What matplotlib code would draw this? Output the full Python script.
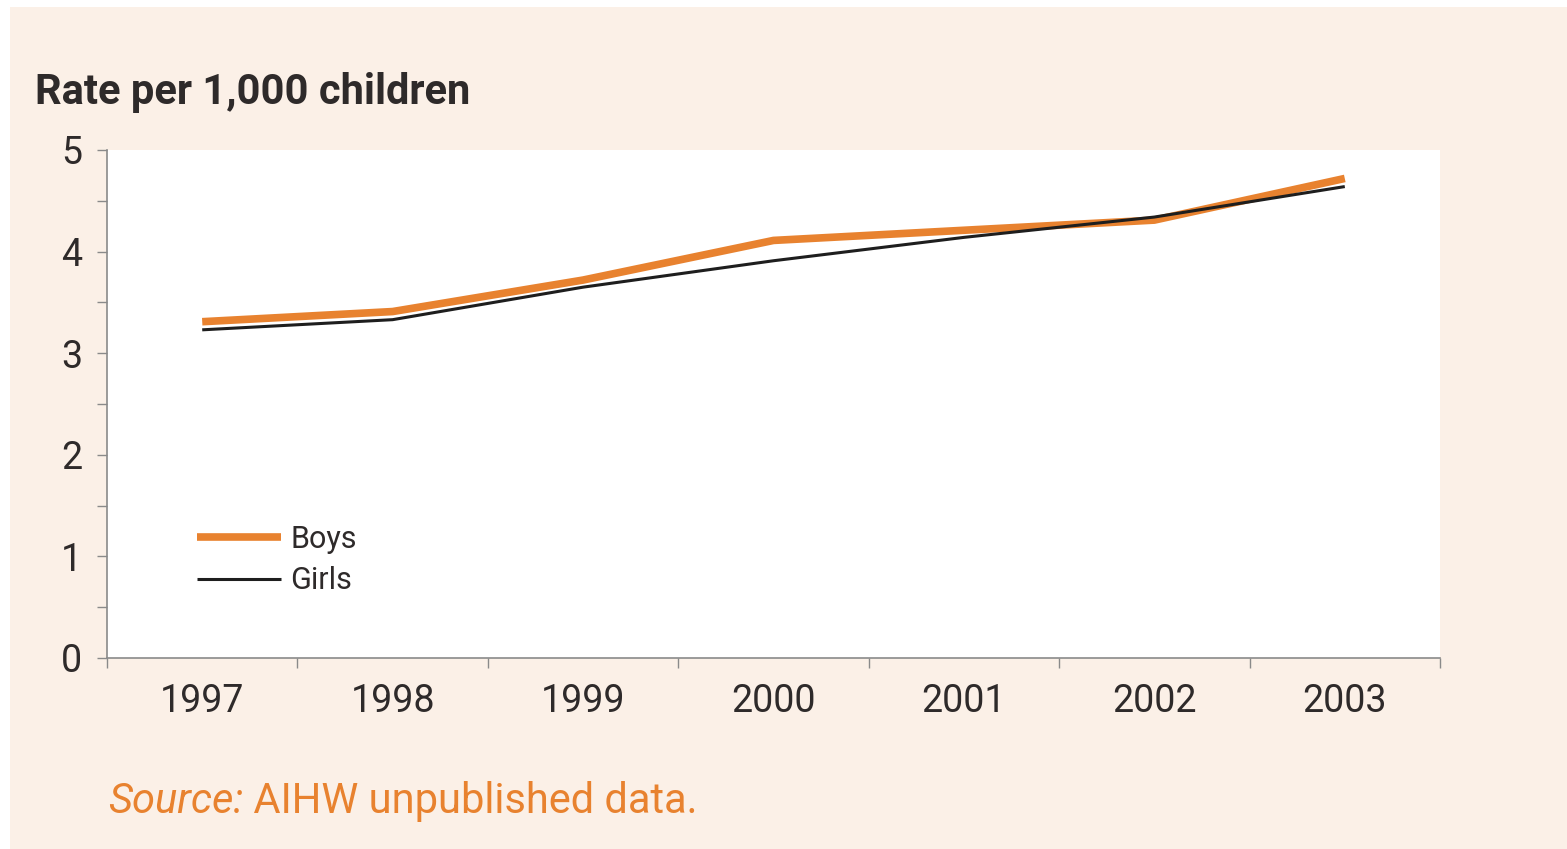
#!/usr/bin/env python3
"""Rate per 1,000 children, boys vs girls, 1997-2003."""

import matplotlib
matplotlib.use("Agg")
import matplotlib.pyplot as plt
from matplotlib.patches import Rectangle

years = ["1997", "1998", "1999", "2000", "2001", "2002", "2003"]
boys = [3.31, 3.41, 3.72, 4.11, 4.21, 4.31, 4.72]
girls = [3.23, 3.33, 3.65, 3.91, 4.14, 4.34, 4.64]

ORANGE = "#E8822F"
PEACH = "#FBF0E7"
TEXT = "#2E2A2A"
SPINE = "#8A8A8A"

plt.rcParams["font.family"] = ["Roboto", "DejaVu Sans"]

fig = plt.figure(figsize=(15.67, 8.49), dpi=100, facecolor="white")
fig.patches.append(Rectangle((10 / 1567, 0), 1, 1 - 7 / 849, transform=fig.transFigure,
                             facecolor=PEACH, edgecolor="none", zorder=-10))

ax = fig.add_axes([107 / 1567, 191 / 849, 1333 / 1567, 508 / 849])
ax.set_facecolor("white")

x = range(len(years))
ax.plot(x, boys, color=ORANGE, lw=5.5, solid_capstyle="butt", label="Boys", zorder=3)
ax.plot(x, girls, color="#1E1E1E", lw=2.2, solid_capstyle="butt", label="Girls", zorder=4)

ax.set_xlim(-0.5, len(years) - 0.5)
ax.set_ylim(0, 5)

for side in ["top", "right"]:
    ax.spines[side].set_visible(False)
for side in ["left", "bottom"]:
    ax.spines[side].set_color(SPINE)
    ax.spines[side].set_linewidth(1.2)

ax.set_xticks(list(x))
ax.set_xticklabels(years)
ax.set_xticks([i - 0.5 for i in range(len(years) + 1)], minor=True)
ax.tick_params(axis="x", which="major", length=0, pad=18, labelsize=27, labelcolor=TEXT)
ax.tick_params(axis="x", which="minor", length=7, width=1, color=SPINE, direction="out")

ax.set_yticks(range(6))
ax.set_yticks([i + 0.5 for i in range(5)], minor=True)
ax.tick_params(axis="y", which="both", length=7, width=1, color=SPINE, direction="out")
ax.tick_params(axis="y", which="major", pad=11, labelsize=27, labelcolor=TEXT)

leg = ax.legend(loc="center left", bbox_to_anchor=(0.0675, 0.193), frameon=False,
                fontsize=22, handlelength=2.75, handletextpad=0.3, labelspacing=0.42,
                borderpad=0, borderaxespad=0)
for t in leg.get_texts():
    t.set_color(TEXT)

fig.text(35 / 1567, 1 - 104 / 849, "Rate per 1,000 children", fontsize=30,
         fontweight="bold", color=TEXT, va="baseline", ha="left")

src = fig.text(108 / 1567, 1 - 813 / 849, "Source:", fontsize=30, style="italic",
               color=ORANGE, va="baseline", ha="left")
ax.annotate(" AIHW unpublished data.", xy=(1, 0), xycoords=src, fontsize=30,
            color=ORANGE, va="bottom", ha="left", annotation_clip=False)

fig.savefig("out.png", dpi=100, facecolor=fig.get_facecolor())
plt.close(fig)
